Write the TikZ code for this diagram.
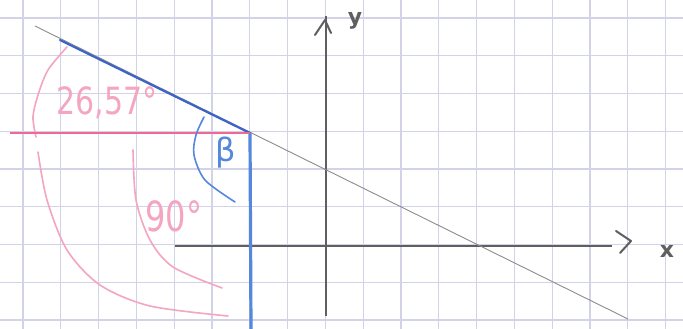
\documentclass[tikz,border=0pt]{standalone}
\usepackage{fontspec}
\setmainfont{DejaVu Sans}
\definecolor{gridc}{RGB}{210,210,232}
\definecolor{axisc}{RGB}{95,95,95}
\definecolor{linec}{RGB}{140,140,140}
\definecolor{bluec}{RGB}{60,100,200}
\definecolor{bluel}{RGB}{85,135,220}
\definecolor{pinkc}{RGB}{240,105,150}
\definecolor{pinkl}{RGB}{244,165,192}
\tikzset{
  gridline/.style={draw=gridc, line width=1.1pt},
  axisline/.style={draw=axisc, line width=1.6pt},
  tipline/.style={draw=axisc, line width=2pt, line cap=round, line join=round},
  graphline/.style={draw=linec, line width=0.9pt},
  bluestroke/.style={draw=bluec, line width=2.2pt, line cap=round},
  bluevert/.style={draw=bluel, line width=3.2pt},
  bluearc/.style={draw=bluel, line width=1.6pt, line cap=round},
  pinkstroke/.style={draw=pinkc, line width=2.2pt},
  pinkarc/.style={draw=pinkl, line width=1.6pt, line cap=round},
  pinklabel/.style={text=pinkl, inner sep=0pt},
  bluelabel/.style={text=bluel, inner sep=0pt},
  axislabel/.style={text=axisc, inner sep=0pt}
}
\begin{document}
\begin{tikzpicture}[x=1pt,y=-1pt]
\useasboundingbox (0,0) rectangle (683,329);
\fill[white] (0,0) rectangle (683,329);
% grid paper
\foreach \k in {0,...,17} \draw[gridline] ({23+37.8*\k},0) -- ({23+37.8*\k},329);
\foreach \k in {0,...,8} \draw[gridline] (0,{18+37.75*\k}) -- (683,{18+37.75*\k});
% key points
\coordinate (O) at (326,246);
\coordinate (P) at (250,133);
\coordinate (L0) at (35,26);
\coordinate (L1) at (628,319);
\coordinate (B0) at (60,40);
\coordinate (V1) at (251,329);
\coordinate (H0) at (10,133);
\coordinate (XA) at (175,246);
\coordinate (XB) at (612,246);
\coordinate (YA) at (326,316);
\coordinate (YB) at (326,16);
% axes
\draw[axisline] (XA) -- (XB);
\draw[axisline] (YA) -- (YB);
\draw[tipline] (616,231) -- (631,241) -- (620,253);
\draw[tipline] (315,35) -- (325,20) -- (331,33);
\node[axislabel, font=\fontsize{22}{22}\selectfont\bfseries] (ylab) at (355,21) {y};
\node[axislabel, font=\fontsize{22}{22}\selectfont\bfseries] (xlab) at (667,251) {x};
% pink arcs
\draw[pinkarc] plot[smooth] coordinates {(67,47) (48,70) (38,95) (33,117) (36,137)};
\draw[pinkarc] plot[smooth] coordinates {(38,152) (47,200) (67,250) (100,285) (150,306) (228,316)};
\draw[pinkarc] plot[smooth] coordinates {(133,150) (136,200) (150,240) (173,267) (222,288)};
% graph line
\draw[graphline] (L0) -- (L1);
% blue segment and vertical
\draw[bluestroke] (B0) -- (P);
\draw[bluevert] (P) -- (V1);
% pink horizontal
\draw[pinkstroke] (H0) -- (P);
% blue beta arc
\draw[bluearc] plot[smooth] coordinates {(204,117) (196,135) (194,155) (205,180) (235,202)};
% labels
\node[pinklabel, font=\fontsize{30}{30}\selectfont] (a1) at (107,103) {\scalebox{1}[1.25]{26,57°}};
\node[bluelabel, font=\fontsize{32}{32}\selectfont] (beta) at (226,153) {β};
\node[pinklabel, font=\fontsize{32}{32}\selectfont] (a2) at (174,216) {\scalebox{1}[1.3]{90°}};
\end{tikzpicture}
\end{document}
